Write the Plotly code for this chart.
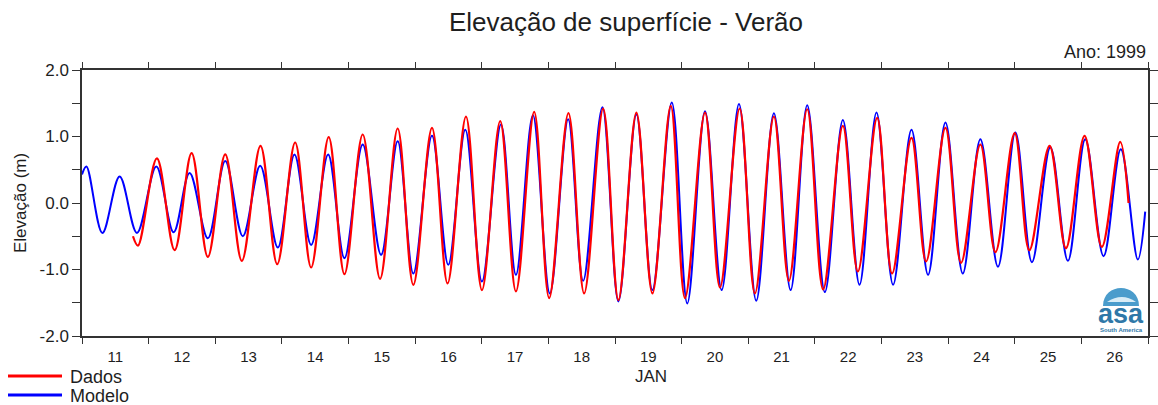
import pandas as pd
import plotly.graph_objects as go

# Extremes (high / low water): day of January 1999, elevation (m)
modelo_dia = [11.00, 11.066, 11.306, 11.565, 11.825, 12.115, 12.375, 12.615, 12.889, 13.150,
              13.414, 13.675, 13.939, 14.189, 14.439, 14.694, 14.939, 15.213, 15.489, 15.738,
              15.973, 16.253, 16.498, 16.753, 17.003, 17.288, 17.513, 17.768, 18.022, 18.297,
              18.522, 18.811, 19.051, 19.321, 19.561, 19.852, 20.085, 20.351, 20.601, 20.861,
              21.120, 21.385, 21.636, 21.885, 22.150, 22.420, 22.670, 22.925, 23.174, 23.450,
              23.699, 23.960, 24.220, 24.484, 24.748, 25.009, 25.258, 25.534, 25.798, 26.058,
              26.333, 26.592, 26.847, 26.958]
modelo_elev = [0.43, 0.55, -0.45, 0.40, -0.45, 0.55, -0.44, 0.45, -0.53, 0.63,
               -0.50, 0.56, -0.67, 0.73, -0.63, 0.73, -0.83, 0.88, -0.78, 0.93,
               -1.06, 1.01, -0.93, 1.10, -1.18, 1.18, -1.08, 1.32, -1.36, 1.26,
               -1.17, 1.44, -1.48, 1.33, -1.31, 1.51, -1.51, 1.38, -1.31, 1.49,
               -1.47, 1.35, -1.31, 1.47, -1.34, 1.25, -1.23, 1.36, -1.23, 1.10,
               -1.08, 1.21, -1.06, 0.96, -0.96, 1.06, -0.89, 0.84, -0.87, 0.96,
               -0.80, 0.81, -0.85, -0.13]

dados_dia = [11.765, 11.840, 12.124, 12.390, 12.645, 12.889, 13.150, 13.399, 13.679, 13.930,
             14.199, 14.439, 14.703, 14.939, 15.213, 15.474, 15.738, 15.973, 16.253, 16.487,
             16.763, 17.003, 17.277, 17.513, 17.787, 18.012, 18.301, 18.537, 18.822, 19.051,
             19.321, 19.561, 19.837, 20.051, 20.351, 20.576, 20.871, 21.100, 21.385, 21.610,
             21.885, 22.124, 22.420, 22.645, 22.935, 23.159, 23.450, 23.669, 23.960, 24.194,
             24.484, 24.710, 24.999, 25.219, 25.523, 25.768, 26.048, 26.307, 26.583, 26.708]
dados_elev = [-0.50, -0.64, 0.67, -0.71, 0.75, -0.81, 0.73, -0.87, 0.86, -0.92,
              0.91, -0.97, 0.99, -1.07, 1.03, -1.14, 1.12, -1.23, 1.13, -1.21,
              1.30, -1.31, 1.23, -1.33, 1.37, -1.43, 1.35, -1.36, 1.42, -1.46,
              1.36, -1.36, 1.46, -1.43, 1.36, -1.27, 1.42, -1.36, 1.30, -1.17,
              1.41, -1.30, 1.16, -1.03, 1.28, -1.06, 0.98, -0.88, 1.13, -0.90,
              0.88, -0.74, 1.05, -0.71, 0.86, -0.68, 1.01, -0.66, 0.92, 0.00]

y_tickvals = [-2.0, -1.5, -1.0, -0.5, 0.0, 0.5, 1.0, 1.5, 2.0]
y_ticktext = ["-2.0", "", "-1.0", "", "0.0", "", "1.0", "", "2.0"]


def to_time(days):
    base = pd.Timestamp("1999-01-01")
    return [base + pd.Timedelta(days=d - 1) for d in days]


FONT = "Arial, Liberation Sans, sans-serif"
TXT = "#1e1e1e"

fig = go.Figure()
fig.add_trace(go.Scatter(x=to_time(modelo_dia), y=modelo_elev, mode="lines", name="Modelo",
                         line=dict(color="#0000FF", width=2, shape="spline", smoothing=1.0)))
fig.add_trace(go.Scatter(x=to_time(dados_dia), y=dados_elev, mode="lines", name="Dados",
                         line=dict(color="#FF0000", width=2.2, shape="spline", smoothing=1.0)))

W, H = 1158, 405
L, T = 82, 70
R = W - 1148
B = H - 336
pw, ph = W - L - R, H - T - B


def px(x):
    return (x - L) / pw


def py(y):
    return (H - B - y) / ph


fig.update_layout(
    width=W, height=H,
    margin=dict(l=L, r=R, t=T, b=B, autoexpand=False),
    paper_bgcolor="white", plot_bgcolor="white",
    showlegend=False,
    font=dict(family=FONT, color=TXT, size=15),
    title=dict(text="Elevação de superfície - Verão", xref="paper", x=px(626), xanchor="center",
               yref="container", y=1 - 22 / H, yanchor="middle",
               font=dict(size=26, color=TXT, family=FONT)),
)
fig.update_xaxes(
    type="date", range=["1999-01-11", "1999-01-27"], automargin=False,
    tick0="1999-01-11", dtick=86400000, tickformat="%d", ticklabelmode="period",
    ticks="outside", ticklen=6, tickcolor="#333", tickwidth=1,
    showline=True, linecolor="#333", linewidth=1.5, mirror="ticks",
    showgrid=False, zeroline=False, tickfont=dict(size=15, color=TXT),
)
fig.update_yaxes(
    range=[-2, 2], tickvals=y_tickvals, ticktext=y_ticktext, automargin=False,
    ticks="outside", ticklen=8, tickcolor="#333", tickwidth=1,
    showline=True, linecolor="#333", linewidth=1.5, mirror="ticks",
    showgrid=False, zeroline=False, tickfont=dict(size=17, color=TXT),
)

ann = [
    dict(text="Elevação (m)", x=px(20), y=py(203), xanchor="center", yanchor="middle",
         textangle=-90, font=dict(size=17, color=TXT)),
    dict(text="Ano: 1999", x=px(1148), y=py(52), xanchor="right", yanchor="middle",
         font=dict(size=18, color=TXT)),
    dict(text="JAN", x=px(651), y=py(376), xanchor="center", yanchor="middle",
         font=dict(size=17, color=TXT)),
    dict(text="Dados", x=px(68), y=py(377), xanchor="left", yanchor="middle",
         font=dict(size=18, color=TXT)),
    dict(text="Modelo", x=px(68), y=py(396), xanchor="left", yanchor="middle",
         font=dict(size=18, color=TXT)),
    dict(text="<b>asa</b>", x=px(1121), y=py(314), xanchor="center", yanchor="middle",
         font=dict(size=27, color="#2f78a8", family="Arial, Liberation Sans")),
    dict(text="<b>South America</b>", x=px(1121), y=py(330), xanchor="center", yanchor="middle",
         font=dict(size=6, color="#2f78a8")),
]
for a in ann:
    a.update(xref="paper", yref="paper", showarrow=False)

shapes = [
    dict(type="line", x0=px(8), x1=px(62), y0=py(376), y1=py(376),
         line=dict(color="#FF0000", width=3)),
    dict(type="line", x0=px(8), x1=px(62), y0=py(395), y1=py(395),
         line=dict(color="#0000FF", width=3)),
    dict(type="path",
         path=f"M {px(1103)},{py(306)} C {px(1103)},{py(282)} {px(1139)},{py(282)} {px(1139)},{py(306)} Z",
         fillcolor="#4a9ccc", line=dict(width=0)),
    dict(type="path",
         path=f"M {px(1107)},{py(302)} Q {px(1122)},{py(292)} {px(1136)},{py(302)} Z",
         fillcolor="#d8ecf6", line=dict(width=0)),
]
for s in shapes:
    s.update(xref="paper", yref="paper")

fig.update_layout(annotations=ann, shapes=shapes)
fig.write_html("out.html", config={"displayModeBar": False},
               post_script="document.body.style.margin='0';document.body.style.overflow='hidden';")
